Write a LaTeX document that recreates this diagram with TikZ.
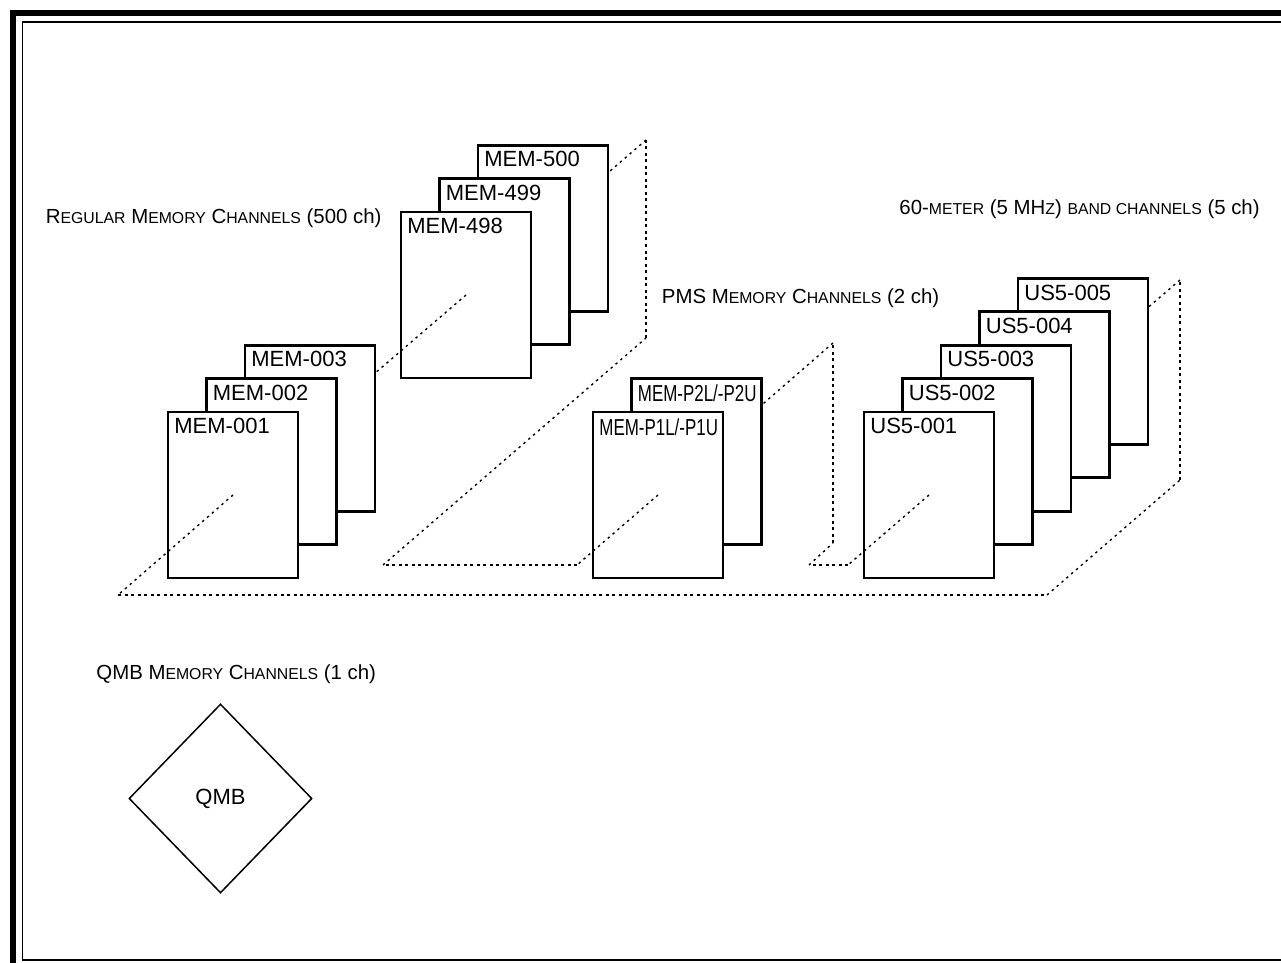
\documentclass[tikz,border=0pt]{standalone}
\usepackage{fontspec}
\setmainfont{Liberation Sans}
\usepackage{graphicx}
\usetikzlibrary{shapes.geometric,calc}
\newcommand\smc[1]{{\fontsize{7.9}{9}\selectfont\MakeUppercase{#1}}}

\begin{document}
\begin{tikzpicture}[x=0.5pt,y=-0.5pt,font=\fontsize{11}{13}\selectfont,
  card/.style={draw,line width=1.35pt,fill=white,outer sep=0pt,inner sep=0pt,minimum width=65pt,minimum height=83pt,anchor=north west},
  cardlbl/.style={anchor=north west,inner xsep=3pt,inner ysep=3pt},
  grplbl/.style={anchor=base west,inner sep=0pt,font=\fontsize{10.2}{12}\selectfont},
  floor/.style={line width=1pt,dash pattern=on 1.5pt off 1.75pt},
  depth/.style={line width=0.7pt,dash pattern=on 1.2pt off 2pt},
  qmbbox/.style={draw,diamond,line width=0.75pt,inner sep=0pt,minimum width=91.5pt,minimum height=94.5pt}]
  \useasboundingbox (0,0) rectangle (1281,963);
  % frame
  \draw[line width=3.25pt] (1290,13) -- (13,13) -- (13,970);
  \draw[line width=0.75pt] (1290,21.8) -- (22.5,21.8) -- (22.5,960) -- (1290,960);

  % group labels
  \node[grplbl] (lreg) at (45.5,223) {R\smc{egular} M\smc{emory} C\smc{hannels} (500 ch)};
  \node[grplbl] (lpms) at (661.5,303) {PMS M\smc{emory} C\smc{hannels} (2 ch)};
  \node[grplbl] (lus5) at (899,214) {60-\smc{meter} (5 MH\smc{z}) \smc{band channels} (5 ch)};
  \node[grplbl] (lqmb) at (96,679) {QMB M\smc{emory} C\smc{hannels} (1 ch)};

  % channel cards, back to front
  \foreach \i/\n in {2/003,1/002,0/001}{
    \node[card] (r\i) at (168+38.5*\i,412-33.4*\i) {};
    \node[cardlbl] at (r\i.north west) {MEM-\n};}
  \foreach \i/\n in {2/500,1/499,0/498}{
    \node[card] (s\i) at (401+38.5*\i,212-33.4*\i) {};
    \node[cardlbl] at (s\i.north west) {MEM-\n};}
  \node[card] (p1) at (631.5,378.6) {};
  \node[cardlbl] at (p1.north west) {\scalebox{0.77}[1.05]{MEM-P2L/-P2U}};
  \node[card] (p0) at (593,412) {};
  \node[cardlbl] at (p0.north west) {\scalebox{0.77}[1.05]{MEM-P1L/-P1U}};
  \foreach \i/\n in {4/005,3/004,2/003,1/002,0/001}{
    \node[card] (u\i) at (864+38.5*\i,412-33.4*\i) {};
    \node[cardlbl] at (u\i.north west) {US5-\n};}

  \node[qmbbox] (qmb) at (220.5,798.5) {QMB};

  % dotted floor
  \coordinate (f1) at (118,595);
  \coordinate (f2) at (1047,595);
  \coordinate (f3) at (1180,480);
  \coordinate (f4) at (1180,280);
  \coordinate (f5) at (848,565);
  \coordinate (f6) at (809,565);
  \coordinate (f7) at (833,543);
  \coordinate (f8) at (833,343);
  \coordinate (f9) at (577,565);
  \coordinate (f10) at (383,565);
  \coordinate (f11) at (646,338);
  \coordinate (f12) at (646,140);
  \draw[floor] (f1) -- (f2) (f3) -- (f4) (f5) -- (f6) (f7) -- (f8) (f9) -- (f10) (f11) -- (f12);
  \draw[depth] (f2) -- (f3)
    (f4) -- (intersection of f4--u0.center and u4.north east--u4.south east)
    (u0.center) -- (f5) (f6) -- (f7)
    (f8) -- (intersection of f8--p0.center and p1.north east--p1.south east)
    (p0.center) -- (f9) (f10) -- (f11)
    (f12) -- (intersection of f12--s0.center and s2.north east--s2.south east)
    (s0.center) -- (intersection of s0.center--r0.center and r2.north east--r2.south east)
    (r0.center) -- (f1);
\end{tikzpicture}
\end{document}
